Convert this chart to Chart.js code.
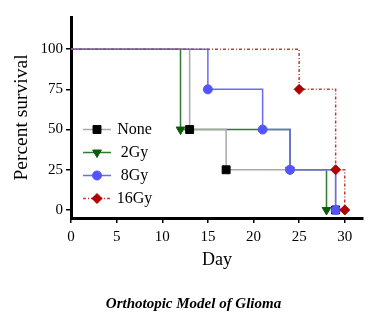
<!DOCTYPE html>
<html>
<head>
<meta charset="utf-8">
<script src="https://cdn.jsdelivr.net/npm/chart.js@4.4.1/dist/chart.umd.min.js"></script>
<style>
  html, body { margin: 0; padding: 0; background: #fff; }
  #wrap { width: 387px; height: 325px; }
</style>
</head>
<body>
<div id="wrap"><canvas id="chart" width="387" height="325"></canvas></div>
<script>
// Kaplan-Meier survival, orthotopic glioma model
const DAY_TICKS = [0, 5, 10, 15, 20, 25, 30];
const SURVIVAL_TICKS = [0, 25, 50, 75, 100];

const GROUP_LABELS = ["None", "2Gy", "8Gy", "16Gy"];

const noneDays = [0, 13, 17, 29];
const noneSurvival = [100, 50, 25, 0];

const gy2Days = [0, 12, 24, 28];
const gy2Survival = [100, 50, 25, 0];

const gy8Days = [0, 15, 21, 24, 29];
const gy8Survival = [100, 75, 50, 25, 0];

const gy16Days = [0, 25, 29, 30];
const gy16Survival = [100, 75, 25, 0];

const SERIF = "'Liberation Serif', 'DejaVu Serif', serif";

function toPoints(days, values) {
  return days.map((d, i) => ({ x: d, y: values[i] }));
}

/** Série em degraus, sem marcador no ponto inicial (dia 0) */
function survivalSeries(label, days, values, style) {
  return {
    label,
    data: toPoints(days, values),
    stepped: true,
    fill: false,
    borderColor: style.line,
    borderWidth: 1.5,
    borderDash: style.dash || [],
    backgroundColor: style.marker,
    pointBackgroundColor: style.marker,
    pointBorderColor: style.marker,
    pointBorderWidth: 1,
    pointStyle: style.pointStyle,
    pointRotation: style.rotation || 0,
    pointRadius: (c) => (c.dataIndex === 0 ? 0 : style.radius),
    markerRadius: style.radius,
    order: style.order
  };
}

const datasets = [
  survivalSeries(GROUP_LABELS[0], noneDays, noneSurvival,
    { line: "#a9a9a9", marker: "#000000", pointStyle: "rect", radius: 5.6, order: 2 }),
  survivalSeries(GROUP_LABELS[1], gy2Days, gy2Survival,
    { line: "#2f7a2f", marker: "#0b5a0b", pointStyle: "triangle", rotation: 180, radius: 5, order: 3 }),
  survivalSeries(GROUP_LABELS[2], gy8Days, gy8Survival,
    { line: "#6b6bf2", marker: "#5454ff", pointStyle: "circle", radius: 4.5, order: 1 }),
  survivalSeries(GROUP_LABELS[3], gy16Days, gy16Survival,
    { line: "#c43a3a", marker: "#b00000", pointStyle: "rectRot", radius: 5, dash: [3, 2, 1, 2], order: 0 })
];

/** Legenda dentro da área do gráfico, como no original */
const insideLegend = {
  id: "insideLegend",
  afterDraw(chart) {
    const ctx = chart.ctx;
    const x0 = 83, x1 = 111, xm = 97, y0 = 129.5, step = 23;
    chart.data.datasets.forEach((ds, i) => {
      const y = y0 + i * step;
      ctx.save();
      ctx.strokeStyle = ds.borderColor;
      ctx.lineWidth = ds.borderWidth;
      ctx.setLineDash(ds.borderDash);
      ctx.beginPath();
      ctx.moveTo(x0, y);
      ctx.lineTo(x1, y);
      ctx.stroke();
      ctx.setLineDash([]);
      ctx.fillStyle = ds.pointBackgroundColor;
      ctx.strokeStyle = ds.pointBorderColor;
      ctx.lineWidth = 1;
      if (Chart.helpers && Chart.helpers.drawPoint) {
        Chart.helpers.drawPoint(ctx, {
          pointStyle: ds.pointStyle,
          rotation: ds.pointRotation,
          radius: ds.markerRadius,
          borderWidth: 1
        }, xm, y);
      }
      ctx.fillStyle = "#000";
      ctx.font = "16px " + SERIF;
      ctx.textAlign = "center";
      ctx.textBaseline = "middle";
      ctx.fillText(ds.label, 134.5, y);
      ctx.restore();
    });
  }
};

new Chart(document.getElementById("chart"), {
  type: "line",
  data: { datasets },
  plugins: [insideLegend],
  options: {
    responsive: false,
    animation: false,
    layout: { padding: { top: 17, right: 0, left: 0, bottom: 0 } },
    plugins: {
      legend: { display: false },
      tooltip: { enabled: false },
      title: {
        display: true,
        position: "bottom",
        text: "Orthotopic Model of Glioma",
        color: "#000",
        font: { family: SERIF, size: 15, style: "italic", weight: "bold" },
        padding: { top: 0, bottom: 12 }
      }
    },
    scales: {
      x: {
        type: "linear",
        min: 0,
        max: 32,
        afterBuildTicks: (s) => { s.ticks = DAY_TICKS.map((v) => ({ value: v })); },
        afterFit: (s) => { s.height = 77; },
        border: { display: true, color: "#000", width: 3 },
        grid: { display: true, drawOnChartArea: false, drawTicks: true, tickLength: 5, color: "#000", lineWidth: 1.5 },
        ticks: { color: "#000", padding: 5, maxRotation: 0, font: { family: SERIF, size: 15 } },
        title: {
          display: true,
          text: "Day",
          color: "#000",
          font: { family: SERIF, size: 18 },
          padding: { top: 0, bottom: 24.2 }
        }
      },
      y: {
        min: -5,
        max: 120,
        afterBuildTicks: (s) => { s.ticks = SURVIVAL_TICKS.map((v) => ({ value: v })); },
        afterFit: (s) => { s.width = 71; },
        border: { display: true, color: "#000", width: 3 },
        grid: { display: true, drawOnChartArea: false, drawTicks: true, tickLength: 5, color: "#000", lineWidth: 1.5 },
        ticks: { color: "#000", padding: 3, font: { family: SERIF, size: 15 } },
        title: {
          display: true,
          text: "Percent survival",
          color: "#000",
          font: { family: SERIF, size: 19.5 },
          padding: { top: 10.3, bottom: 0 }
        }
      },
      // eixo vazio à direita: só reserva a margem, para a legenda de baixo ficar centrada
      yRight: {
        position: "right",
        min: -5,
        max: 120,
        afterFit: (s) => { s.width = 24; },
        border: { display: false },
        grid: { display: false },
        ticks: { display: false }
      }
    }
  }
});
</script>
</body>
</html>
